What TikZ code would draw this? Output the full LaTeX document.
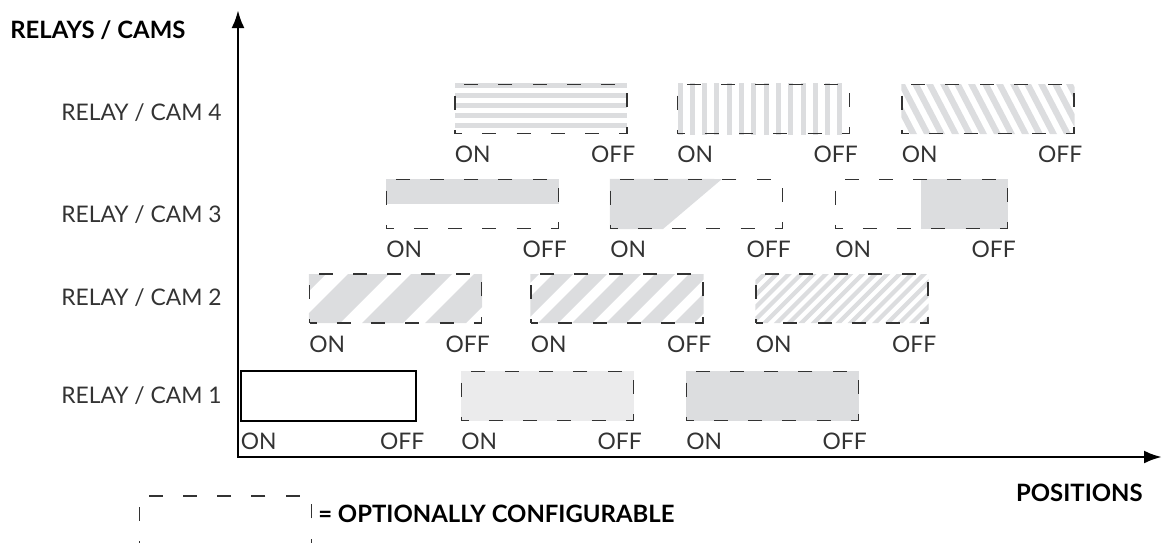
\documentclass[tikz,border=0pt]{standalone}
\usepackage{fontspec}
\setmainfont{Lato}
\usetikzlibrary{arrows.meta,backgrounds}

\definecolor{bandgray}{RGB}{220,221,223}
\definecolor{palegray}{RGB}{235,235,236}
\definecolor{linegray}{RGB}{51,51,51}

\tikzset{
  optbox/.style={draw=linegray, line width=0.7pt, dash pattern=on 8pt off 11.5pt, dash phase=4pt,
    minimum width=3.44cm, minimum height=0.98cm, inner sep=0pt},
  fixbox/.style={draw=black, line width=0.6pt, minimum width=3.5cm, minimum height=1cm, inner sep=0pt},
  tag/.style={text=linegray, font=\fontsize{13}{15}\selectfont, inner sep=0pt},
  title/.style={font=\bfseries\fontsize{13.6}{16}\selectfont, inner sep=0pt},
  axis/.style={line width=1.6pt, line cap=rect, -{Latex[length=0.36cm, width=0.26cm]}},
  band/.style={fill=bandgray},
}

\begin{document}
\begin{tikzpicture}[x=0.02cm, y=-0.02cm]
\useasboundingbox (0,0) rectangle (1163,542);

% axes
\coordinate (origin) at (238,457);
\coordinate (ytip) at (238,10);
\coordinate (xtip) at (1162,457);
\draw[axis] (origin) -- (ytip);
\draw[axis] (origin) -- (xtip);

\node[title, anchor=west] (ytitle) at (10,30) {RELAYS / CAMS};
\node[title, anchor=east] (xtitle) at (1143,493) {POSITIONS};

\foreach \r/\y in {4/113, 3/215, 2/298, 1/396}
  \node[tag, anchor=east] (row\r) at (222,\y) {RELAY / CAM \r};

% boxes
\node[fixbox] (r1a) at (328.5,396) {};
\foreach \n/\cx/\cy in {r1b/547.5/396, r1c/772.5/396,
    r2a/395.5/298.5, r2b/617/298.5, r2c/842/298.5,
    r3a/472.5/204, r3b/696.5/204, r3c/921.5/204,
    r4a/541/109, r4b/763.5/109, r4c/988/109}
  \node[optbox] (\n) at (\cx,\cy) {};

\foreach \n in {r1a,r1b,r1c,r2a,r2b,r2c,r3a,r3b,r3c,r4a,r4b,r4c}
{
  \node[tag, anchor=north west] (\n-on) at ([yshift=-0.23cm]\n.south west) {ON};
  \node[tag, anchor=north east] (\n-off) at ([xshift=0.16cm, yshift=-0.23cm]\n.south east) {OFF};
}

% legend
\node[optbox] (legend) at (225.5,520.5) {};
\node[title, anchor=west] (legendtext) at (318,514) {= OPTIONALLY CONFIGURABLE};

% fillings
\begin{scope}[on background layer]
  % cam 1
  \fill[palegray] (r1b.south west) rectangle (r1b.north east);
  \fill[bandgray] (r1c.south west) rectangle (r1c.north east);
  % cam 2
  \begin{scope}
    \clip (r2a.south west) rectangle (r2a.north east);
    \foreach \x in {236,299,...,490}
      \fill[band] (\x,323) -- ++(41,0) -- ++(49,-49) -- ++(-41,0) -- cycle;
  \end{scope}
  \begin{scope}
    \clip (r2b.south west) rectangle (r2b.north east);
    \foreach \x in {470,504,...,710}
      \fill[band] (\x,323) -- ++(20,0) -- ++(49,-49) -- ++(-20,0) -- cycle;
  \end{scope}
  \begin{scope}
    \clip (r2c.south west) rectangle (r2c.north east);
    \foreach \x in {700,712.3,...,935}
      \fill[band] (\x,323) -- ++(6,0) -- ++(49,-49) -- ++(-6,0) -- cycle;
  \end{scope}
  % cam 3
  \fill[bandgray] (r3a.north west) rectangle (r3a.east);
  \fill[bandgray] (r3b.north west) -- (722,179) -- (663,229) -- (r3b.south west) -- cycle;
  \fill[bandgray] (921,179) rectangle (r3c.south east);
  % cam 4
  \begin{scope}
    \clip (r4a.south west) rectangle (r4a.north east);
    \foreach \y in {85,95,...,125}
      \fill[band] (455,\y-2.5) rectangle (627,\y+2.5);
  \end{scope}
  \begin{scope}
    \clip (r4b.south west) rectangle (r4b.north east);
    \foreach \x in {680,692.3,...,852}
      \fill[band] (\x-2.5,80) rectangle (\x+2.5,140);
  \end{scope}
  \begin{scope}
    \clip (r4c.south west) rectangle (r4c.north east);
    \foreach \x in {870,884,...,1076}
      \fill[band] (\x,84) -- ++(7,0) -- ++(26,50) -- ++(-7,0) -- cycle;
  \end{scope}
\end{scope}
\end{tikzpicture}
\end{document}
